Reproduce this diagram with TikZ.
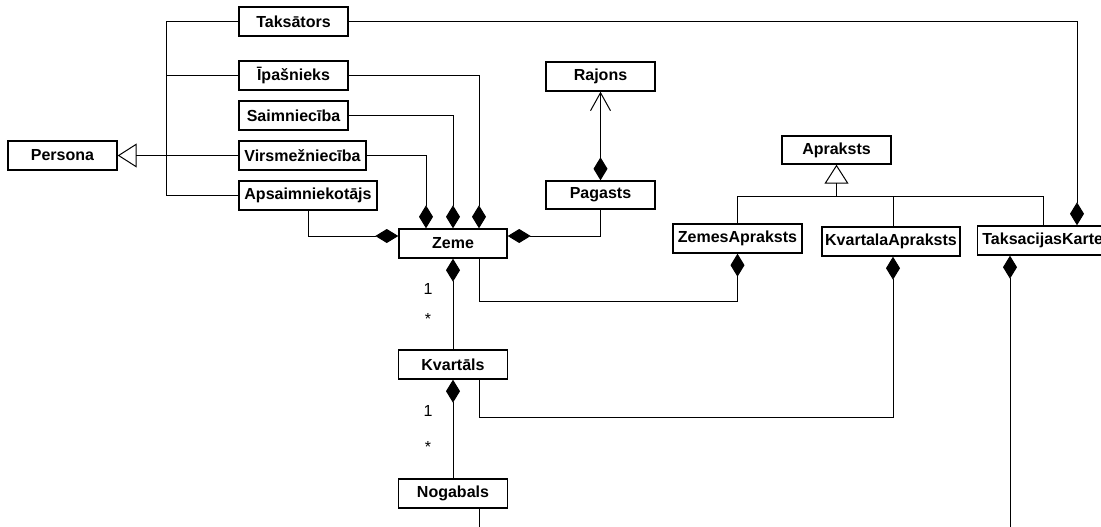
\documentclass[tikz,border=0pt]{standalone}
\usepackage{fontspec}
\setmainfont{Liberation Sans}
\usetikzlibrary{arrows.meta,calc}
\tikzset{
  dia/.tip={Diamond[length=23pt,width=14pt]},
  gen/.tip={Triangle[open,length=19pt,width=24pt]},
  nav/.tip={Straight Barb[length=18pt,width=20pt]},
}
\begin{document}
\begin{tikzpicture}[x=1pt,y=-1pt,
  cls/.style={draw, line width=1.4pt, minimum height=29pt, inner sep=0pt,
    font=\fontsize{16}{18}\selectfont\bfseries},
  conn/.style={line width=1pt},
  lbl/.style={font=\fontsize{16}{18}\selectfont, inner sep=0pt, anchor=base}]
\useasboundingbox (0,0) rectangle (1101,527);
\clip (0,0) rectangle (1101,527);
% classes
\node[cls, minimum width=109pt] (taks) at (293.5,21.5) {Taksātors};
\node[cls, minimum width=109pt] (ipas) at (293.5,75.5) {Īpašnieks};
\node[cls, minimum width=109pt] (saim) at (293.5,115.5) {Saimniecība};
\node[cls, minimum width=127pt] (virs) at (302.5,155.5) {Virsmežniecība};
\node[cls, minimum width=138pt] (apsa) at (308,195.5) {Apsaimniekotājs};
\node[cls, minimum width=109pt] (pers) at (62.5,155.5) {Persona};
\node[cls, minimum width=108pt] (zeme) at (453,243.5) {Zeme};
\node[cls, minimum width=109pt, minimum height=28pt] (pag) at (600.5,195) {Pagasts};
\node[cls, minimum width=109pt] (raj) at (600.5,76.5) {Rajons};
\node[cls, minimum width=109pt, minimum height=28pt] (apr) at (836.5,150) {Apraksts};
\node[cls, minimum width=129pt] (zapr) at (737.5,238.5) {ZemesApraksts};
\node[cls, minimum width=138pt] (kapr) at (891,241.5) {KvartalaApraksts};
\node[cls, minimum width=130pt, anchor=west] (tkar) at (977,240.5) {TaksacijasKarte};
\node[cls, minimum width=109pt] (kv) at (453,364.5) {Kvartāls};
\node[cls, minimum width=109pt] (nog) at (453,493.5) {Nogabals};
% helper points
\coordinate (trunk) at (166,21.5);
\coordinate (zr) at (479,301);
\coordinate (kr) at (479,417);
\coordinate (nb) at (479,530);
\coordinate (tb) at (1010,530);
\coordinate (tr) at (1077,21.5);
\coordinate (gj) at (836.5,196);
% generalization to Persona
\draw[conn] (taks.west) -- (trunk) |- (apsa.west);
\draw[conn] (ipas.west) -- (ipas.west -| trunk);
\draw[conn,-gen] (virs.west) -- (pers.east);
% compositions into Zeme
\draw[conn,-dia] (virs.east) -| ([xshift=-27pt]zeme.north);
\draw[conn,-dia] (saim.east) -| (zeme.north);
\draw[conn,-dia] (ipas.east) -| ([xshift=26pt]zeme.north);
\draw[conn,-dia] (apsa.south) |- ([yshift=7.5pt]zeme.west);
\draw[conn,-dia] (pag.south) |- ([yshift=7.5pt]zeme.east);
\draw[conn,dia-nav] (pag.north) -- (raj.south);
\draw[conn,dia-] (zeme.south) -- (kv.north);
\draw[conn,dia-] (kv.south) -- (nog.north);
\draw[conn,dia-] (zapr.south) |- (zr) -- ([xshift=26pt]zeme.south);
\draw[conn,dia-] ([xshift=2pt]kapr.south) |- (kr) -- ([xshift=26pt]kv.south);
\draw[conn] ([xshift=26pt]nog.south) -- (nb);
\draw[conn,dia-] ([xshift=33pt]tkar.south west) -- (tb);
\draw[conn,-dia] (taks.east) -- (tr) -- ([xshift=100pt]tkar.north west);
% generalization to Apraksts
\draw[conn,-gen] (gj) -- (apr.south);
\draw[conn] (zapr.north) |- (gj);
\draw[conn] ([xshift=66pt]tkar.north west) |- (gj);
\draw[conn] ([xshift=2pt]kapr.north) -- ([xshift=2pt]kapr.north |- gj);
% multiplicities
\node[lbl] (m1) at (428,294) {1};
\node[lbl] (m2) at (428,324.5) {*};
\node[lbl] (m3) at (428,416) {1};
\node[lbl] (m4) at (428,452.5) {*};
\end{tikzpicture}
\end{document}
